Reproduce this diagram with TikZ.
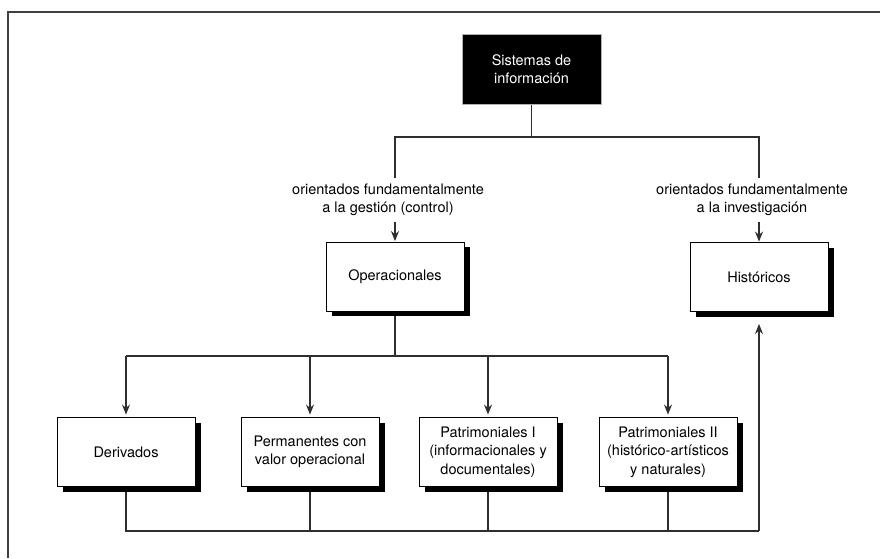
\documentclass[tikz,border=0pt]{standalone}
\usepackage{fontspec}
\setmainfont{TeX Gyre Heros}
\usetikzlibrary{arrows.meta,shadows,backgrounds}

\tikzset{
  txt/.style={font=\fontsize{14.5}{18.3}\selectfont, align=center},
  shadowbox/.style={txt, draw=black, line width=0.9pt, fill=white,
    minimum width=138pt, minimum height=69pt, inner sep=2pt,
    drop shadow={opacity=1, fill=black, shadow xshift=6pt, shadow yshift=-5pt}},
  darkbox/.style={txt, draw=black!30, fill=black, text=white,
    minimum width=139pt, minimum height=70pt},
  branchlabel/.style={txt, inner xsep=4pt, inner ysep=6pt},
  conn/.style={line width=1.1pt, draw=black!82},
  arr/.style={conn, -{Stealth[length=10pt,width=8pt]}},
}

\begin{document}
\begin{tikzpicture}[x=1pt, y=-1pt]
  \useasboundingbox (0,0) rectangle (880,558);

  % open frame: top and left rules only
  \draw[line width=1.2pt, black!75] (8,558) -- (8,12) -- (880,12);

  % root
  \node[darkbox] (sis) at (531.5,69) {Sistemas de\\información};

  % first level
  \node[branchlabel] (lab1) at (388,200) {orientados fundamentalmente\\a la gestión (control)};
  \node[branchlabel] (lab2) at (752,200) {orientados fundamentalmente\\a la investigación};
  \node[shadowbox] (op)   at (395,276.5) {Operacionales};
  \node[shadowbox] (hist) at (759,277)   {Históricos};

  % second level
  \node[shadowbox] (der)  at (126,452) {Derivados};
  \node[shadowbox] (perm) at (310,452) {Permanentes con\\valor operacional};
  \node[shadowbox] (pat1) at (488,452) {Patrimoniales I\\(informacionales y\\documentales)};
  \node[shadowbox] (pat2) at (668,452) {Patrimoniales II\\(histórico-artísticos\\y naturales)};

  \coordinate (split) at (531.5,137);
  \coordinate (mid)   at (395,356);
  \coordinate (bus)   at (759,531);

  \begin{scope}[on background layer]
    % root to the two orientations
    \draw[conn] (sis.south) -- (split);
    \draw[conn] (op.north |- lab1.north) -- (op.north |- split)
                -- (hist.north |- split) -- (hist.north |- lab2.north);
    \draw[arr, shorten >=0.5pt] (op.north |- lab1.south) -- (op.north);
    \draw[arr, shorten >=0.5pt] (hist.north |- lab2.south) -- (hist.north);

    % operational systems to their four kinds
    \draw[conn] (op.south) -- (mid);
    \draw[conn] (der.north |- mid) -- (pat2.north |- mid);
    \foreach \n in {der,perm,pat1,pat2}
      \draw[arr, shorten >=2.5pt] (\n.north |- mid) -- (\n.north);

    % all four feed the historical systems
    \draw[conn] (der.south) -- (der.south |- bus) -- (bus);
    \foreach \n in {perm,pat1,pat2}
      \draw[conn] (\n.south) -- (\n.south |- bus);
    \draw[arr, shorten >=12pt] (bus) -- (hist.south);
  \end{scope}
\end{tikzpicture}
\end{document}
